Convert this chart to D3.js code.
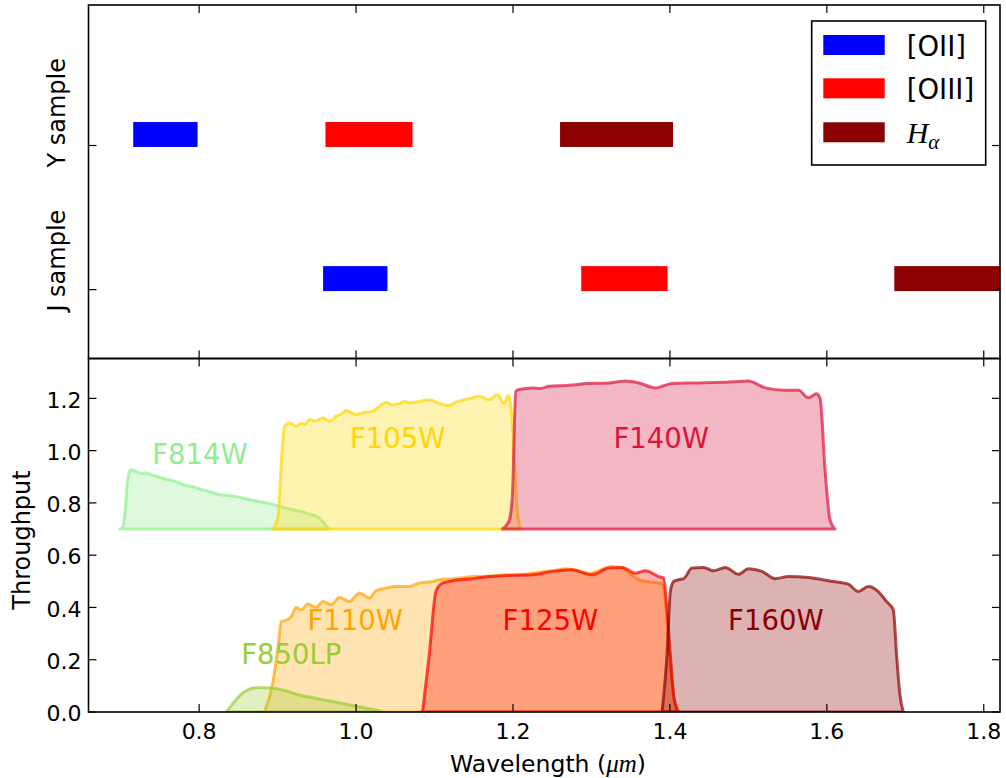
<!DOCTYPE html>
<html>
<head>
<meta charset="utf-8">
<script src="https://cdn.jsdelivr.net/npm/d3@7"></script>
<style>
  html, body { margin: 0; padding: 0; background: #fff; }
  svg { display: block; font-family: "DejaVu Sans", sans-serif; }
</style>
</head>
<body>
<svg id="chart" width="1006" height="778"></svg>
<script>
// ---- data -------------------------------------------------------------
const wavelengthTicks = [0.8, 1.0, 1.2, 1.4, 1.6, 1.8];
const throughputTicks = [0.0, 0.2, 0.4, 0.6, 0.8, 1.0, 1.2];

// redshift samples and the observed wavelength windows of each emission line (µm)
const samples = ["Y sample", "J sample"];
const sampleLevel = [1, 0];
const emissionLines = ["[OII]", "[OIII]", "Hα"];
const ySampleWindows = [[0.716, 0.798], [0.961, 1.072], [1.260, 1.404]];
const jSampleWindows = [[0.958, 1.040], [1.287, 1.397], [1.686, 1.840]];

// filter throughput curves: [wavelength (µm), throughput]
const f814w = [[0.699,0],[0.703,0.01],[0.706,0.08],[0.709,0.19],[0.7128,0.227],[0.718,0.222],[0.7268,0.213],
  [0.733,0.214],[0.7395,0.208],[0.748,0.199],[0.7585,0.190],[0.768,0.184],[0.7797,0.170],[0.790,0.163],
  [0.8009,0.153],[0.812,0.144],[0.8263,0.131],[0.836,0.128],[0.8476,0.124],[0.8645,0.112],[0.8857,0.100],
  [0.9111,0.080],[0.9366,0.061],[0.9535,0.042],[0.9618,0.012],[0.966,0]];
const f105w = [[0.894,0],[0.9005,0.048],[0.9048,0.254],[0.909,0.393],[0.9153,0.406],[0.9238,0.393],[0.930,0.404],
  [0.935,0.400],[0.9408,0.419],[0.948,0.413],[0.9577,0.425],[0.9662,0.412],[0.975,0.432],[0.981,0.440],
  [0.9874,0.454],[1.0001,0.438],[1.010,0.446],[1.0213,0.451],[1.030,0.470],[1.0383,0.485],[1.046,0.476],
  [1.0552,0.480],[1.062,0.488],[1.068,0.483],[1.080,0.488],[1.0933,0.495],[1.105,0.482],[1.1188,0.472],
  [1.127,0.486],[1.1357,0.493],[1.146,0.500],[1.157,0.508],[1.1696,0.495],[1.1802,0.515],[1.1887,0.480],
  [1.1942,0.511],[1.198,0.45],[1.202,0.25],[1.206,0.05],[1.210,0]];
const f140w = [[1.1865,0],[1.195,0.03],[1.1992,0.125],[1.2036,0.527],[1.2078,0.534],[1.2248,0.540],[1.235,0.538],
  [1.2459,0.546],[1.2671,0.549],[1.280,0.552],[1.2926,0.557],[1.3222,0.559],[1.3434,0.566],[1.3603,0.559],
  [1.3816,0.540],[1.392,0.548],[1.4027,0.557],[1.4366,0.559],[1.4706,0.562],[1.5002,0.566],[1.5214,0.540],
  [1.5468,0.531],[1.5638,0.531],[1.5765,0.502],[1.587,0.518],[1.5914,0.50],[1.5977,0.227],[1.604,0.036],[1.6104,0]];
const f850lp = [[0.8348,0],[0.8432,0.033],[0.8581,0.078],[0.873,0.093],[0.8899,0.093],[0.9068,0.084],
  [0.928,0.065],[0.9493,0.052],[0.9704,0.040],[0.9916,0.027],[1.0128,0.014],[1.0297,0.005],[1.032,0]];
const f110w = [[0.8835,0],[0.8941,0.116],[0.9004,0.244],[0.9048,0.346],[0.9111,0.352],[0.9175,0.365],
  [0.9238,0.400],[0.9302,0.391],[0.9386,0.413],[0.9493,0.400],[0.9577,0.423],[0.9683,0.410],[0.9789,0.438],
  [0.9916,0.423],[1.0043,0.455],[1.017,0.436],[1.0256,0.464],[1.0383,0.474],[1.051,0.480],[1.0679,0.480],
  [1.0806,0.493],[1.0975,0.499],[1.106,0.506],[1.125,0.510],[1.1484,0.518],[1.170,0.520],[1.1909,0.525],
  [1.210,0.526],[1.2332,0.535],[1.2501,0.540],[1.2671,0.548],[1.2968,0.531],[1.3264,0.557],[1.3391,0.551],
  [1.3603,0.506],[1.3858,0.493],[1.39,0.49],[1.395,0.40],[1.400,0.20],[1.405,0.05],[1.410,0]];
const f125w = [[1.0848,0],[1.0933,0.218],[1.1018,0.461],[1.1102,0.493],[1.123,0.502],[1.1484,0.510],
  [1.1696,0.518],[1.1909,0.522],[1.2247,0.525],[1.2501,0.538],[1.2755,0.544],[1.301,0.525],[1.3222,0.551],
  [1.3391,0.553],[1.3561,0.531],[1.3688,0.540],[1.3858,0.518],[1.392,0.512],[1.396,0.40],[1.401,0.20],
  [1.405,0.06],[1.411,0]];
const f160w = [[1.390,0],[1.3963,0.218],[1.4006,0.461],[1.4048,0.499],[1.4112,0.506],[1.4176,0.510],
  [1.4281,0.551],[1.443,0.553],[1.4557,0.540],[1.4706,0.553],[1.4875,0.527],[1.5002,0.548],[1.5172,0.538],
  [1.5341,0.510],[1.551,0.518],[1.5765,0.515],[1.602,0.502],[1.6274,0.489],[1.6401,0.461],[1.6528,0.480],
  [1.6655,0.461],[1.6761,0.423],[1.6847,0.391],[1.6889,0.218],[1.6932,0.065],[1.6974,0]];

// upper row of filters is shifted up by this much
const rowOffset = 0.7;

// ---- styling -----------------------------------------------------------
const lineColor = { "[OII]": "#0000ff", "[OIII]": "#ff0000", "Hα": "#8b0000" };

const filters = [
  { name: "F814W",  curve: f814w,  offset: rowOffset, color: "#90ee90", label: [0.801, 0.95] },
  { name: "F105W",  curve: f105w,  offset: rowOffset, color: "#ffd700", label: [1.053, 1.01] },
  { name: "F140W",  curve: f140w,  offset: rowOffset, color: "#dc143c", label: [1.389, 1.01] },
  { name: "F110W",  curve: f110w,  offset: 0,         color: "#ffa500", label: [0.999, 0.314] },
  { name: "F850LP", curve: f850lp, offset: 0,         color: "#9acd32", label: [0.9175, 0.183] },
  { name: "F125W",  curve: f125w,  offset: 0,         color: "#ff0000", label: [1.2476, 0.314] },
  { name: "F160W",  curve: f160w,  offset: 0,         color: "#8b0000", label: [1.535, 0.314] }
];

// ---- layout ------------------------------------------------------------
const left = 88.5, right = 1000;
const topTop = 5, split = 358.5, bottomBottom = 712;
const tickLen = 8;

const svg = d3.select("#chart");

const x = d3.scaleLinear().domain([0.659, 1.8207]).range([left, right]);
const yTop = d3.scaleLinear().domain([-0.478, 1.975]).range([split, topTop]);
const yBot = d3.scaleLinear().domain([0, 1.3525]).range([bottomBottom, split]);

svg.append("defs").append("clipPath").attr("id", "clipTop")
  .append("rect").attr("x", left).attr("y", topTop).attr("width", right - left).attr("height", split - topTop);
svg.select("defs").append("clipPath").attr("id", "clipBot")
  .append("rect").attr("x", left).attr("y", split).attr("width", right - left).attr("height", bottomBottom - split);

// ---- top panel: emission-line windows -----------------------------------
const barLow = -0.01, barHigh = 0.163;
const topG = svg.append("g").attr("clip-path", "url(#clipTop)");
[ySampleWindows, jSampleWindows].forEach((windows, si) => {
  const level = sampleLevel[si];
  topG.selectAll(null).data(windows).enter().append("rect")
    .attr("x", d => x(d[0]))
    .attr("width", d => x(d[1]) - x(d[0]))
    .attr("y", yTop(level + barHigh))
    .attr("height", yTop(level + barLow) - yTop(level + barHigh))
    .attr("fill", (d, i) => lineColor[emissionLines[i]]);
});

// sample labels (rotated)
samples.forEach((s, i) => {
  const yy = yTop(sampleLevel[i]) + 22;
  svg.append("text")
    .attr("transform", `translate(65,${yy}) rotate(-90)`)
    .attr("text-anchor", "start")
    .attr("font-size", 24)
    .attr("fill", "#000")
    .text(s);
});

// legend
const legend = svg.append("g");
legend.append("rect")
  .attr("x", 811.7).attr("y", 21).attr("width", 174).attr("height", 144)
  .attr("fill", "#fff").attr("stroke", "#000").attr("stroke-width", 1.6);
const rowY = [45, 88.3, 132.3];
emissionLines.forEach((name, i) => {
  legend.append("rect")
    .attr("x", 823.3).attr("y", rowY[i] - 10).attr("width", 61.4).attr("height", 20)
    .attr("fill", lineColor[name]);
  const t = legend.append("text")
    .attr("x", 906.7).attr("y", rowY[i] + 10.8)
    .attr("font-size", 27.5).attr("fill", "#000");
  if (name === "Hα") {
    t.append("tspan").attr("font-family", "'Liberation Serif', serif").attr("font-style", "italic")
      .attr("font-size", 30).text("H");
    t.append("tspan").attr("font-family", "'Liberation Serif', serif").attr("font-style", "italic")
      .attr("font-size", 21).attr("dy", 6).text("α");
  } else {
    t.text(name);
  }
});

// ---- bottom panel: filter curves ----------------------------------------
const botG = svg.append("g").attr("clip-path", "url(#clipBot)");
filters.forEach(f => {
  const area = d3.area()
    .curve(d3.curveMonotoneX)
    .x(d => x(d[0]))
    .y0(yBot(f.offset))
    .y1(d => yBot(f.offset + d[1]));
  botG.append("path")
    .attr("d", area(f.curve) + "Z")
    .attr("fill", f.color).attr("fill-opacity", 0.3)
    .attr("stroke", f.color).attr("stroke-opacity", 0.7)
    .attr("stroke-width", 3).attr("stroke-linejoin", "round");
});
filters.forEach(f => {
  botG.append("text")
    .attr("x", x(f.label[0])).attr("y", yBot(f.label[1]))
    .attr("text-anchor", "middle")
    .attr("font-size", 27.5)
    .attr("fill", f.color)
    .text(f.name);
});

// ---- axes ----------------------------------------------------------------
const axes = svg.append("g").attr("stroke", "#000").attr("fill", "none");
// frames
axes.append("rect").attr("x", left).attr("y", topTop).attr("width", right - left).attr("height", split - topTop)
  .attr("stroke-width", 1.6);
axes.append("rect").attr("x", left).attr("y", split).attr("width", right - left).attr("height", bottomBottom - split)
  .attr("stroke-width", 1.6);

// x ticks, inside, on every horizontal spine
[[topTop, 1], [split, -1], [split, 1], [bottomBottom, -1]].forEach(([yy, dir]) => {
  axes.selectAll(null).data(wavelengthTicks).enter().append("line")
    .attr("x1", d => x(d)).attr("x2", d => x(d))
    .attr("y1", yy).attr("y2", yy + dir * tickLen)
    .attr("stroke-width", 1.2);
});
// y ticks on both side spines
[[left, 1], [right, -1]].forEach(([xx, dir]) => {
  axes.selectAll(null).data(sampleLevel).enter().append("line")
    .attr("x1", xx).attr("x2", xx + dir * tickLen)
    .attr("y1", d => yTop(d)).attr("y2", d => yTop(d))
    .attr("stroke-width", 1.2);
  axes.selectAll(null).data(throughputTicks).enter().append("line")
    .attr("x1", xx).attr("x2", xx + dir * tickLen)
    .attr("y1", d => yBot(d)).attr("y2", d => yBot(d))
    .attr("stroke-width", 1.2);
});

// tick labels
const labels = svg.append("g").attr("fill", "#000").attr("font-size", 22);
labels.selectAll(null).data(wavelengthTicks).enter().append("text")
  .attr("x", d => x(d)).attr("y", 738.5)
  .attr("text-anchor", "middle")
  .text(d => d3.format(".1f")(d));
labels.selectAll(null).data(throughputTicks).enter().append("text")
  .attr("x", 81.5).attr("y", d => yBot(d) + 9.2)
  .attr("text-anchor", "end")
  .text(d => d3.format(".1f")(d));

// axis titles
const xt = svg.append("text")
  .attr("x", 548).attr("y", 772)
  .attr("text-anchor", "middle").attr("font-size", 23.5).attr("fill", "#000");
xt.append("tspan").text("Wavelength (");
xt.append("tspan").attr("font-family", "'Liberation Serif', serif").attr("font-style", "italic")
  .attr("font-size", 25).text("μm");
xt.append("tspan").text(")");

svg.append("text")
  .attr("transform", "translate(30,540) rotate(-90)")
  .attr("text-anchor", "middle").attr("font-size", 24).attr("fill", "#000")
  .text("Throughput");
</script>
</body>
</html>
